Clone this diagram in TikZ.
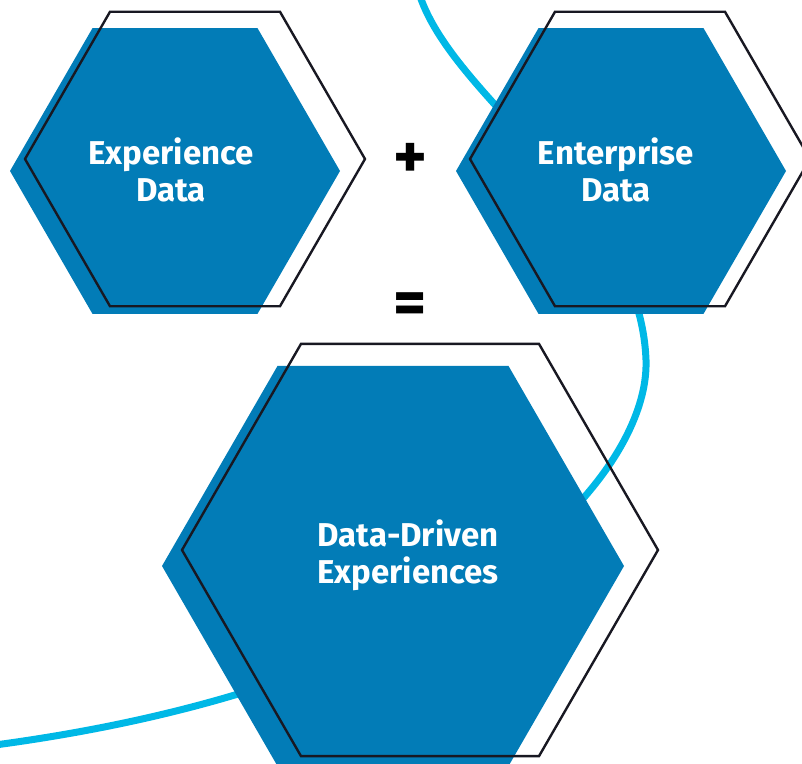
\documentclass[tikz,border=0pt]{standalone}
\usepackage{fontspec}
\setmainfont{Fira Sans}
\usetikzlibrary{shapes.geometric}
\definecolor{hexblue}{RGB}{2,124,183}
\definecolor{curveblue}{RGB}{0,184,230}
\definecolor{hexdark}{RGB}{24,24,34}

\begin{document}
\begin{tikzpicture}[x=1pt, y=-1pt]
\tikzset{hexfill/.style = {regular polygon, regular polygon sides=6, fill=hexblue, inner sep=0pt}}
\tikzset{hexline/.style = {regular polygon, regular polygon sides=6, draw=hexdark, line width=2.4pt, inner sep=0pt}}
\tikzset{hextext/.style = {text=white, align=center, inner sep=0pt, font=\bfseries\fontsize{33}{37}\selectfont}}
\tikzset{sign/.style = {inner sep=0pt, font=\bfseries\fontsize{64}{64}\selectfont}}

\useasboundingbox (0,0) rectangle (802,763);

% curve behind the hexagons
\coordinate (ctop) at (418,-10);
\coordinate (cright) at (646,360);
\coordinate (cend) at (-5,745);
\draw[curveblue, line width=7pt] (ctop) .. controls (450,100) and (640,200) .. (cright)
  .. controls (650,470) and (480,680) .. (cend);

% filled hexagons
\node[hexfill, minimum size=330] (expfill) at (175,171) {};
\node[hexfill, minimum size=330] (entfill) at (621,171) {};
\node[hexfill, minimum size=462] (ddfill) at (393,566) {};

% outlines
\node[hexline, minimum size=340] (expline) at (195,159) {};
\node[hexline, minimum size=340] (entline) at (640,159) {};
\node[hexline, minimum size=476] (ddline) at (420,550) {};

% labels
\node[hextext] (exp) at (171,170) {Experience\\Data};
\node[hextext] (ent) at (616,170) {Enterprise\\Data};
\node[hextext] (dd) at (408,555) {Data-Driven\\Experiences};
\node[sign] (plus) at (410,161) {+};
\node[sign] (equals) at (410,309) {=};
\end{tikzpicture}
\end{document}
